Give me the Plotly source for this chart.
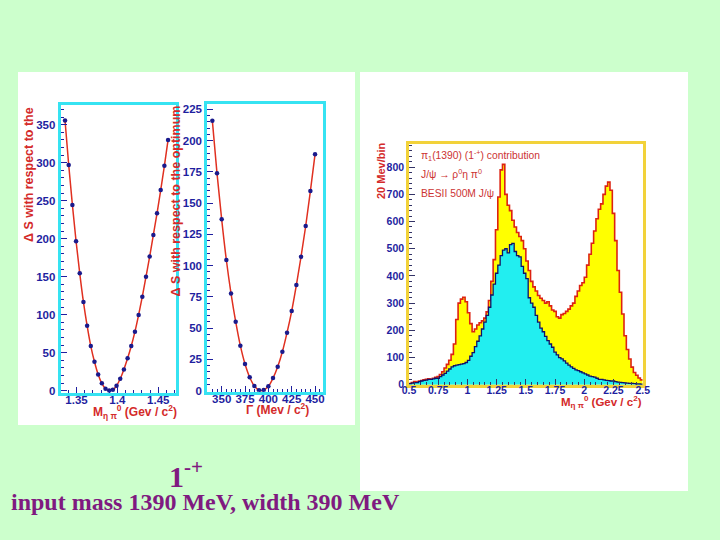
import plotly.graph_objects as go
import numpy as np

# ---------------- data ----------------
mass_scan = [1.336, 1.3405, 1.345, 1.3495, 1.354, 1.3585, 1.363, 1.3675, 1.372, 1.3765,
             1.381, 1.3855, 1.390, 1.3945, 1.399, 1.4035, 1.408, 1.4125, 1.417, 1.4215,
             1.426, 1.4305, 1.435, 1.4395, 1.444, 1.4485, 1.453, 1.4575, 1.462]
mass_dS = [355.6, 297, 244.5, 196.7, 154.5, 116.8, 85.6, 58.8, 38.2, 21.5,
           9.7, 2.6, 0.3, 1.2, 6.6, 15.8, 28, 42.6, 58.8, 77.7,
           99.7, 123.8, 150, 176.5, 205, 233.5, 264, 296, 330]

width_scan = [340, 345, 350, 355, 360, 365, 370, 375, 380, 385, 390, 395,
              400, 405, 410, 415, 420, 425, 430, 435, 440, 445, 450]
width_dS = [215.9, 173.8, 137, 104.5, 77.8, 55.2, 36, 21.3, 10.7, 3.7, 0.3, 0.5,
            3.5, 10.1, 19.2, 31.2, 46.4, 63.7, 84.5, 107.1, 131.7, 159.6, 189]

hist_lo, hist_hi, hist_bin = 0.5, 2.5, 0.02
total_counts = [5, 8, 12, 10, 14, 16, 18, 20, 22, 20,
                24, 28, 30, 38, 48, 62, 75, 90, 112, 150,
                240, 300, 315, 322, 305, 265, 225, 195, 205, 220,
                228, 235, 245, 268, 310, 380, 460, 570, 690, 790,
                810, 700, 660, 640, 605, 580, 560, 545, 530, 500,
                455, 420, 380, 360, 345, 328, 318, 310, 300, 305,
                290, 275, 270, 250, 245, 258, 262, 270, 278, 290,
                300, 325, 345, 365, 375, 395, 440, 480, 520, 565,
                610, 645, 665, 700, 730, 745, 715, 630, 530, 420,
                340, 260, 180, 130, 95, 65, 45, 35, 25, 18]
component_counts = [4, 6, 8, 8, 12, 14, 16, 17, 20, 20,
                    22, 24, 24, 30, 36, 42, 50, 58, 66, 70,
                    72, 74, 76, 78, 82, 90, 105, 118, 140, 160,
                    180, 205, 230, 255, 285, 330, 370, 410, 440, 475,
                    495, 500, 485, 515, 520, 490, 475, 470, 435, 410,
                    390, 320, 300, 285, 255, 230, 208, 195, 178, 162,
                    150, 138, 120, 110, 100, 95, 88, 80, 72, 66,
                    60, 55, 52, 48, 44, 40, 36, 32, 30, 28,
                    24, 20, 20, 18, 16, 15, 14, 14, 12, 10,
                    9, 8, 7, 6, 5, 5, 4, 3, 3, 2]

# ---------------- styling ----------------
W, H = 720, 540
BG = "#CCFFCC"
FRAME_CYAN = "#36E3F2"
TICK_BLUE = "#1F1F9F"
TITLE_RED = "#D42A2A"
FIT_RED = "#E03020"
PURPLE = "#7F1A80"
SANS = "Liberation Sans, Arial, sans-serif"
SERIF = "Liberation Serif, Times New Roman, serif"


def px(x):
    return x / W


def py(y):
    return 1 - y / H


fig = go.Figure()

# panel 1: mass scan
fig.add_trace(go.Scatter(x=mass_scan, y=mass_dS, mode="lines", line=dict(color=FIT_RED, width=1.5, shape="spline"),
                         xaxis="x", yaxis="y", hoverinfo="skip"))
fig.add_trace(go.Scatter(x=mass_scan, y=mass_dS, mode="markers", marker=dict(color="#1A1A8C", size=4.5),
                         xaxis="x", yaxis="y"))
# panel 2: width scan
fig.add_trace(go.Scatter(x=width_scan, y=width_dS, mode="lines", line=dict(color=FIT_RED, width=1.5, shape="spline"),
                         xaxis="x2", yaxis="y2", hoverinfo="skip"))
fig.add_trace(go.Scatter(x=width_scan, y=width_dS, mode="markers", marker=dict(color="#1A1A8C", size=4.5),
                         xaxis="x2", yaxis="y2"))

# histogram
nb = len(total_counts)
edges = np.round(hist_lo + hist_bin * np.arange(nb + 1), 4)
tot_y = list(total_counts) + [total_counts[-1]]
comp_y = list(component_counts) + [component_counts[-1]]
fig.add_trace(go.Scatter(x=edges, y=tot_y, mode="lines", line=dict(color="#DD2211", width=1.6, shape="hv"),
                         fill="tozeroy", fillcolor="#FFFF00", xaxis="x3", yaxis="y3"))
fig.add_trace(go.Scatter(x=edges, y=comp_y, mode="lines", line=dict(color="#10106A", width=1.3, shape="hv"),
                         fill="tozeroy", fillcolor="#22EEF0", xaxis="x3", yaxis="y3"))

tickfont_big = dict(family=SANS, size=11.5, color=TICK_BLUE, weight="bold")
tickfont_small = dict(family=SANS, size=10.5, color=TICK_BLUE, weight="bold")

common = dict(showgrid=False, zeroline=False, showline=True, mirror=True, ticks="inside",
              tickcolor=TICK_BLUE, ticklen=6, tickwidth=1, automargin=False)

fig.update_layout(
    template="none",
    width=W, height=H, autosize=False,
    margin=dict(l=0, r=0, t=0, b=0, pad=0, autoexpand=False),
    paper_bgcolor=BG, plot_bgcolor="rgba(0,0,0,0)",
    showlegend=False,
    xaxis=dict(domain=[px(60.7), px(176)], range=[1.3307, 1.4717], anchor="y",
               tickvals=[1.35, 1.40, 1.45], ticktext=["1.35", "1.4", "1.45"],
               linecolor=FRAME_CYAN, linewidth=3, tickfont=tickfont_big, ticklabelstandoff=-6,
               minor=dict(dtick=0.01, ticks="inside", ticklen=3, tickcolor=TICK_BLUE), **common),
    yaxis=dict(domain=[py(393), py(105)], range=[-3, 376], anchor="x",
               tickvals=[0, 50, 100, 150, 200, 250, 300, 350],
               linecolor=FRAME_CYAN, linewidth=3, tickfont=tickfont_big,
               minor=dict(dtick=10, ticks="inside", ticklen=3, tickcolor=TICK_BLUE), **common),
    xaxis2=dict(domain=[px(207.3), px(322.7)], range=[334.6, 458.2], anchor="y2",
                tickvals=[350, 375, 400, 425, 450], ticklabelstandoff=-6,
                linecolor=FRAME_CYAN, linewidth=3, tickfont=tickfont_big,
                minor=dict(dtick=5, ticks="inside", ticklen=3, tickcolor=TICK_BLUE), **common),
    yaxis2=dict(domain=[py(391.7), py(104.3)], range=[-0.8, 229], anchor="x2",
                tickvals=[0, 25, 50, 75, 100, 125, 150, 175, 200, 225],
                linecolor=FRAME_CYAN, linewidth=3, tickfont=tickfont_big,
                minor=dict(dtick=5, ticks="inside", ticklen=3, tickcolor=TICK_BLUE), **common),
    xaxis3=dict(domain=[px(409), px(642.7)], range=[0.5, 2.5], anchor="y3",
                tickvals=[0.5, 0.75, 1, 1.25, 1.5, 1.75, 2, 2.25, 2.5],
                ticktext=["0.5", "0.75", "1", "1.25", "1.5", "1.75", "2", "2.25", "2.5"],
                linecolor="#F2D23A", linewidth=2.5, tickfont=tickfont_small, ticklabelstandoff=-6,
                minor=dict(dtick=0.05, ticks="inside", ticklen=3, tickcolor="#333366"),
                **{**common, "tickcolor": "#333366"}),
    yaxis3=dict(domain=[py(384.8), py(144)], range=[0, 885], anchor="x3",
                tickvals=[0, 100, 200, 300, 400, 500, 600, 700, 800],
                linecolor="#F2D23A", linewidth=2.5, tickfont=tickfont_small,
                minor=dict(dtick=20, ticks="inside", ticklen=3, tickcolor="#333366"),
                **{**common, "tickcolor": "#333366"}),
)

# white picture boxes
fig.add_shape(type="rect", xref="paper", yref="paper", x0=px(18), x1=px(355), y0=py(425), y1=py(72),
              fillcolor="white", line=dict(width=0), layer="below")
fig.add_shape(type="rect", xref="paper", yref="paper", x0=px(360), x1=px(688), y0=py(491), y1=py(72),
              fillcolor="white", line=dict(width=0), layer="below")

title_font = dict(family=SANS, size=12.5, color=TITLE_RED, weight="bold")
xtitle_font = dict(family=SANS, size=12, color=TITLE_RED, weight="bold")
ann = []
ann.append(dict(text="Δ S with respect to the", x=px(29), y=py(175), textangle=-90, font=title_font))
ann.append(dict(text="Δ S with respect to the optimum", x=px(175.5), y=py(201), textangle=-90, font=title_font))
ann.append(dict(text="M<sub>η π</sub><sup>0</sup> (Gev / c<sup>2</sup>)", x=px(179), y=py(412),
                xanchor="right", font=xtitle_font))
ann.append(dict(text="Γ (Mev / c<sup>2</sup>)", x=px(311), y=py(409), xanchor="right", font=xtitle_font))
ann.append(dict(text="20 Mev/bin", x=px(381), y=py(171), textangle=-90,
                font=dict(family=SANS, size=11, color=TITLE_RED, weight="bold")))
ann.append(dict(text="M<sub>η π</sub><sup>0</sup> (Gev / c<sup>2</sup>)", x=px(644), y=py(402),
                xanchor="right", font=dict(family=SANS, size=11.5, color=TITLE_RED, weight="bold")))
leg_font = dict(family=SANS, size=10.3, color="#CC3333")
ann.append(dict(text="π<sub>1</sub>(1390) (1<sup>-+</sup>) contribution", x=px(419), y=py(156),
                xanchor="left", font=leg_font))
ann.append(dict(text="J/ψ → ρ<sup>0</sup>η π<sup>0</sup>", x=px(419), y=py(174), xanchor="left", font=leg_font))
ann.append(dict(text="BESII 500M J/ψ", x=px(419), y=py(193), xanchor="left", font=leg_font))
ann.append(dict(text="1<sup>-+</sup>", x=px(167), y=py(474), xanchor="left",
                font=dict(family=SERIF, size=30, color=PURPLE, weight="bold")))
ann.append(dict(text="input mass 1390 MeV, width 390 MeV", x=px(205), y=py(502),
                font=dict(family=SERIF, size=24, color=PURPLE, weight="bold")))
for a in ann:
    a.setdefault("xanchor", "center")
    a.setdefault("yanchor", "middle")
    a.update(xref="paper", yref="paper", showarrow=False)
fig.update_layout(annotations=ann)

fig.write_html("out.html",
               config={"displayModeBar": False, "responsive": False},
               post_script="document.body.style.margin='0';document.body.style.overflow='hidden';")
